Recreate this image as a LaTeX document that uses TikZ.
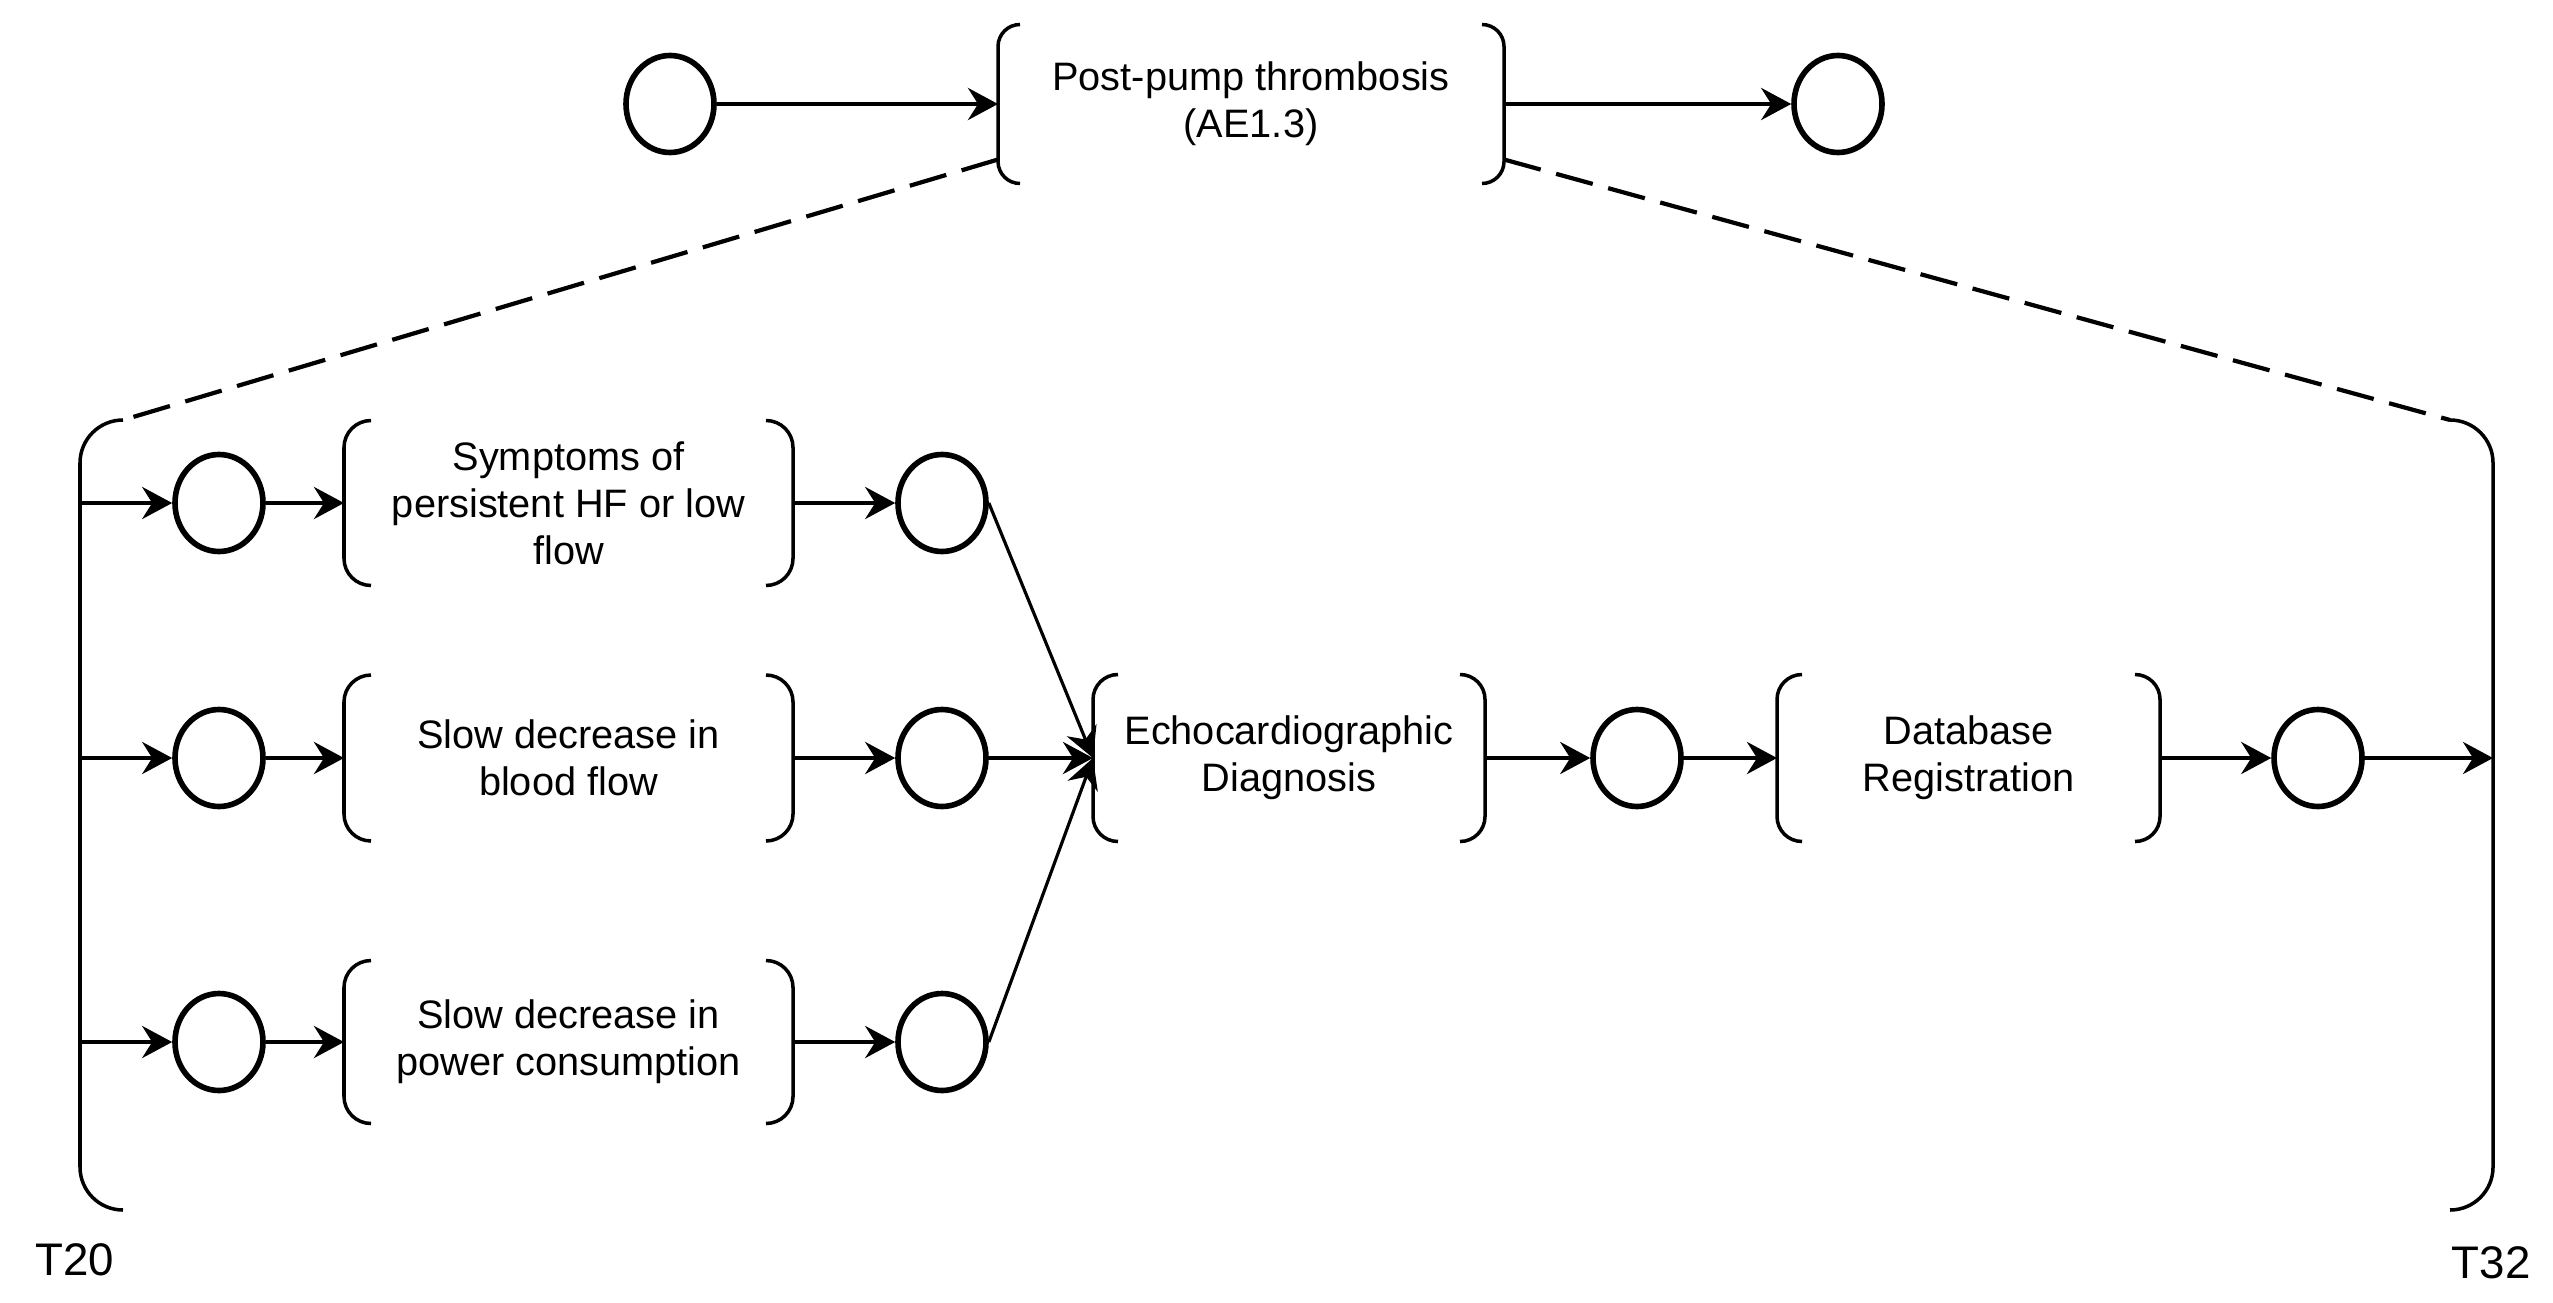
\documentclass[tikz,border=0pt]{standalone}
\usepackage{fontspec}
\setmainfont{Liberation Sans}
\usetikzlibrary{arrows.meta,shapes.geometric}

\tikzset{
  zustand/.style={ellipse, draw, line width=1.6pt, minimum width=0.88cm, minimum height=0.97cm, inner sep=0pt},
  ereignis/.style={align=center, inner sep=0pt, outer sep=0pt, font=\fontsize{11.3}{13.4}\selectfont},
  klammer/.style={line width=1pt, rounded corners=#1},
  klammer/.default=0.25cm,
  pfeil/.style={-{Stealth[length=3mm,width=3.2mm,inset=1mm]}, line width=1.2pt},
  strich/.style={line width=1.2pt, dash pattern=on 0.38cm off 0.16cm},
}

\begin{document}
\begin{tikzpicture}
    \useasboundingbox (0,0) rectangle (25.53,-13.02);

    % obere Ebene
    \node[zustand] (c0) at (6.70,-1.04) {};
    \node[ereignis, minimum width=5.06cm, minimum height=1.59cm] (ae) at (12.51,-1.04) {Post-pump thrombosis\\(AE1.3)};
    \node[zustand] (c1) at (18.38,-1.04) {};

    % Zeitraum T20 bis T32
    \node[inner sep=0pt, outer sep=0pt, minimum width=24.13cm, minimum height=7.90cm] (zeitraum) at (12.865,-8.15) {};
    \node[font=\fontsize{13}{15}\selectfont] (t20) at (0.75,-12.60) {T20};
    \node[font=\fontsize{13}{15}\selectfont] (t32) at (24.91,-12.63) {T32};

    % untere Ebene
    \node[zustand] (a1) at (2.19,-5.03) {};
    \node[ereignis, minimum width=4.49cm, minimum height=1.65cm] (sym) at (5.685,-5.03) {Symptoms of\\persistent HF or low\\flow};
    \node[zustand] (b1) at (9.42,-5.03) {};

    \node[zustand] (a2) at (2.19,-7.58) {};
    \node[ereignis, minimum width=4.49cm, minimum height=1.66cm] (blood) at (5.685,-7.58) {Slow decrease in\\blood flow};
    \node[zustand] (b2) at (9.42,-7.58) {};

    \node[zustand] (a3) at (2.19,-10.42) {};
    \node[ereignis, minimum width=4.49cm, minimum height=1.63cm] (power) at (5.685,-10.42) {Slow decrease in\\power consumption};
    \node[zustand] (b3) at (9.42,-10.42) {};

    \node[ereignis, minimum width=3.92cm, minimum height=1.67cm] (echo) at (12.89,-7.58) {Echocardiographic\\Diagnosis};
    \node[zustand] (c) at (16.37,-7.58) {};
    \node[ereignis, minimum width=3.83cm, minimum height=1.67cm] (db) at (19.685,-7.58) {Database\\Registration};
    \node[zustand] (d) at (23.18,-7.58) {};

    % zeichne Klammern
    \foreach \n/\r in {ae/0.22cm, sym/0.27cm, blood/0.27cm, power/0.27cm, echo/0.25cm, db/0.25cm} {
        \draw[klammer=\r] ([xshift=\r]\n.north west) -- (\n.north west) -- (\n.south west) -- ([xshift=\r]\n.south west);
        \draw[klammer=\r] ([xshift=-\r]\n.north east) -- (\n.north east) -- (\n.south east) -- ([xshift=-\r]\n.south east);
    }
    \draw[klammer=0.43cm] ([xshift=0.43cm]zeitraum.north west) -- (zeitraum.north west) -- (zeitraum.south west) -- ([xshift=0.43cm]zeitraum.south west);
    \draw[klammer=0.43cm] ([xshift=-0.43cm]zeitraum.north east) -- (zeitraum.north east) -- (zeitraum.south east) -- ([xshift=-0.43cm]zeitraum.south east);

    % gestrichelte Linien
    \draw[strich] ([yshift=0.24cm]ae.south west) -- ([xshift=0.43cm]zeitraum.north west);
    \draw[strich] ([yshift=0.24cm]ae.south east) -- ([xshift=-0.43cm]zeitraum.north east);

    % Pfeile oben
    \draw[pfeil] (c0) -- (ae);
    \draw[pfeil] (ae) -- (c1);

    % Pfeile unten
    \draw[pfeil] (zeitraum.west |- a1) -- (a1);
    \draw[pfeil] (a1) -- (sym);
    \draw[pfeil] (sym) -- (b1);
    \draw[pfeil] (zeitraum.west |- a2) -- (a2);
    \draw[pfeil] (a2) -- (blood);
    \draw[pfeil] (blood) -- (b2);
    \draw[pfeil] (zeitraum.west |- a3) -- (a3);
    \draw[pfeil] (a3) -- (power);
    \draw[pfeil] (power) -- (b3);

    \draw[pfeil, line width=0.9pt] (b1.east) -- (echo.west);
    \draw[pfeil] (b2) -- (echo);
    \draw[pfeil, line width=0.9pt] (b3.east) -- (echo.west);

    \draw[pfeil] (echo) -- (c);
    \draw[pfeil] (c) -- (db);
    \draw[pfeil] (db) -- (d);
    \draw[pfeil] (d) -- (zeitraum.east |- d);
\end{tikzpicture}
\end{document}
